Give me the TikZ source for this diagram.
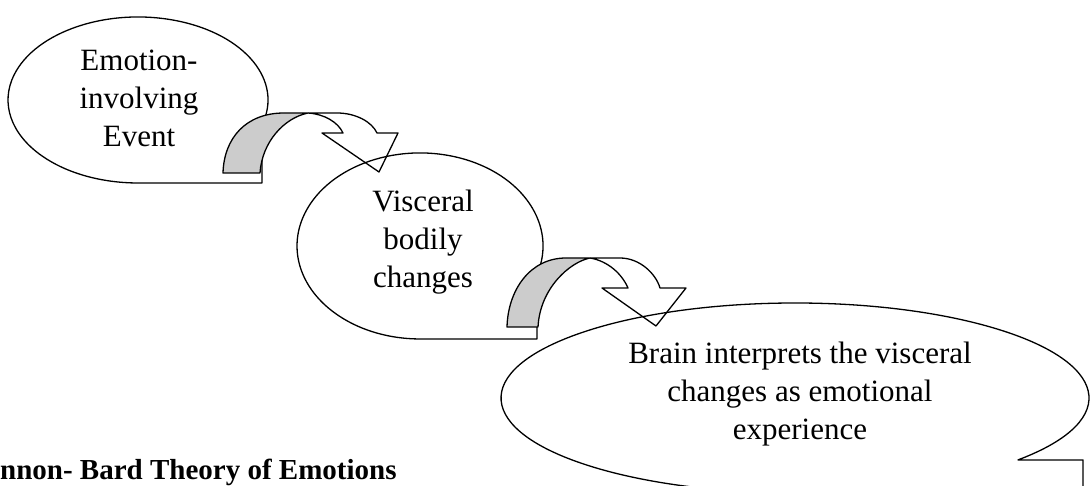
\documentclass[tikz,border=0pt]{standalone}
\usepackage{fontspec}
\setmainfont{Liberation Serif}
\definecolor{bandgray}{HTML}{CCCCCC}
\begin{document}
\begin{tikzpicture}[x=1pt,y=-1pt,line join=round,
  bubble/.style={draw=black,line width=1.3pt},
  band/.style={draw=black,fill=bandgray,line width=1.3pt},
  head/.style={draw=black,line width=1.3pt},
  lbl/.style={font=\fontsize{31}{38}\selectfont,align=center,inner sep=0pt},
  ttl/.style={font=\fontsize{29}{34}\selectfont\bfseries,anchor=base west,inner sep=0pt}]
\useasboundingbox (0,0) rectangle (1090,486);
\clip (0,0) rectangle (1090,486);
% bubbles
\draw[bubble] (262,124.9) arc[start angle=17.47,end angle=-270,x radius=130,y radius=83] -- (262,183) -- cycle;
\draw[bubble] (537,274.7) arc[start angle=18,end angle=-270,x radius=123,y radius=93] -- (537,339) -- cycle;
\draw[bubble] (1018,459.9) arc[start angle=40.67,end angle=-270,x radius=294,y radius=95] -- (1083,493) -- (1083,459.9) -- cycle;
% curved arrow 1
\draw[band] (223,173) .. controls (224,138) and (246,113) .. (284,113) -- (308,113) .. controls (284,118) and (262,142) .. (260,173) -- cycle;
\draw[head] (308,113) -- (337,113) .. controls (356,113) and (372,122) .. (377,133) -- (398,133) -- (379,172) -- (322,133) -- (343,133) .. controls (338,122) and (324,114) .. (308,113);
% curved arrow 2
\draw[band] (507,327) .. controls (508,290) and (530,258) .. (566,258) -- (590,258) .. controls (570,262) and (540,288) .. (538,327) -- cycle;
\draw[head] (590,258) -- (620,258) .. controls (640,258) and (656,274) .. (660,288) -- (686,288) -- (656,326) -- (602,288) -- (628,288) .. controls (622,274) and (608,261) .. (590,258);
% texts
\node[lbl] (t1) at (139,101.4) {\strut Emotion-\\\strut involving\\\strut Event};
\node[lbl] (t2) at (423,242.4) {\strut Visceral\\\strut bodily\\\strut changes};
\node[lbl] (t3) at (800,393.4) {\strut Brain interprets the visceral\\\strut changes as emotional\\\strut experience};
\node[ttl] (title) at (0,479) {nnon- Bard Theory of Emotions};
\end{tikzpicture}
\end{document}
